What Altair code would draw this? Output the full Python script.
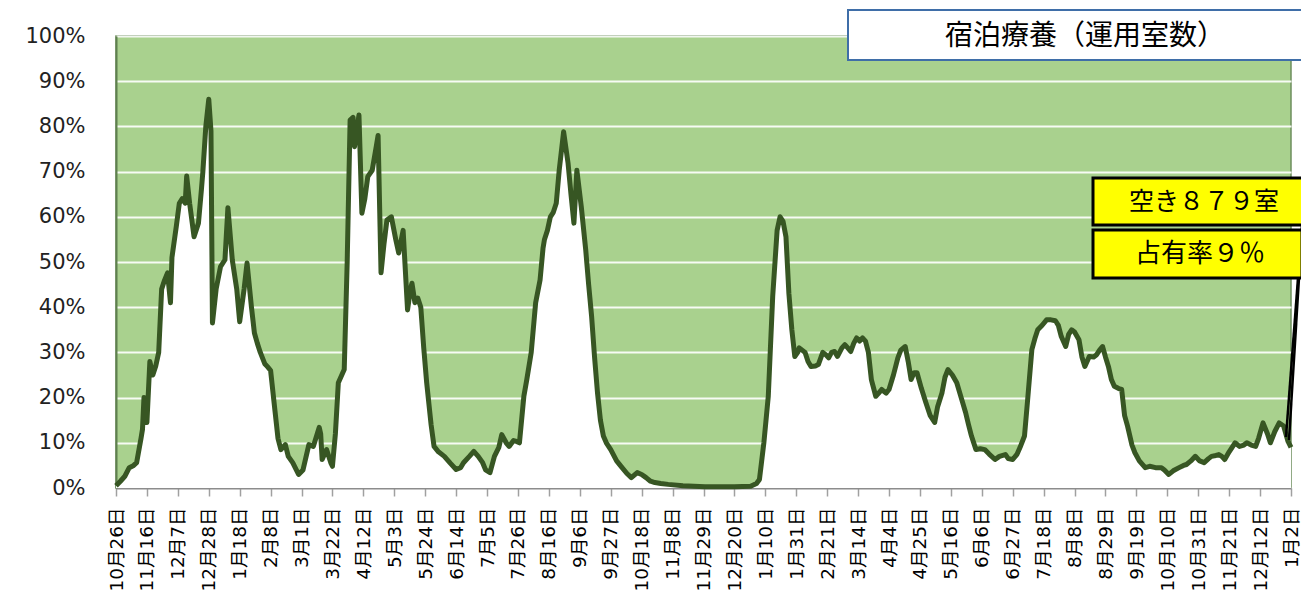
import json
import altair as alt
import pandas as pd

# ---- data (day offset from 10月26日, occupancy %) ----
days = [0, 3, 6, 9, 12, 14, 17, 18, 19, 21, 23, 25, 27, 29, 31, 33, 35, 37, 38, 41,
        43, 45, 47, 48, 50, 53, 56, 58, 59, 61, 63, 64.5, 65.5, 68, 71, 74, 76, 79, 82, 84,
        87, 89, 92, 94, 96, 98, 101, 103, 105, 108, 110, 112, 115, 117, 120, 124, 127, 131, 134, 138,
        139, 140, 143, 146, 147, 149, 151, 155, 157, 159, 161, 162, 165, 167, 169, 171, 174, 177, 178, 180,
        182, 184, 187, 190, 192, 195, 198, 200, 201, 203, 205, 207, 209, 211, 214, 216, 219, 223, 227, 231,
        234, 236, 240, 243, 246, 249, 251, 254, 257, 260, 262, 265, 267, 270, 272, 274, 277, 279, 282, 285,
        288, 290, 291, 293, 295, 297, 299, 301, 304, 307, 309, 311, 313, 316, 319, 321, 323, 325, 327, 329,
        331, 333, 336, 340, 343, 347, 350, 354, 357, 360, 363, 366, 370, 375, 385, 400, 420, 431, 435, 437,
        440, 443, 446, 449, 451, 453, 455, 457, 459, 461, 463, 464, 466, 468, 470, 472, 475, 477, 480, 482,
        484, 486, 488, 490, 493, 495, 497, 499, 501, 503, 505, 507, 509, 511, 513, 516, 518, 520, 523, 525,
        528, 531, 533, 536, 538, 540, 542, 544, 547, 550, 553, 556, 558, 561, 563, 565, 568, 571, 574, 577,
        579, 581, 584, 587, 590, 593, 597, 600, 604, 606, 609, 612, 614, 617, 619, 622, 624, 626, 629, 632,
        635, 638, 640, 642, 645, 647, 649, 651, 654, 656, 658, 661, 664, 666, 668, 670, 672, 674, 676, 678,
        681, 683, 685, 687, 690, 692, 695, 699, 702, 706, 710, 712, 715, 718, 722, 725, 727, 730, 733, 736,
        739, 742, 744, 747, 749, 751, 753, 756, 760, 763, 766, 768, 771, 774, 776, 779, 782, 784, 787, 790,
        793, 796, 798]
occupancy = [0.5, 1.5, 2.6, 4.5, 5, 5.6, 11, 13, 20, 14.5, 28, 25, 27, 30, 44, 46, 47.6, 41, 51, 58,
             63, 64, 63, 69, 63, 55.6, 58.6, 66, 70, 80, 86, 79, 36.5, 44, 49, 50.5, 62, 50.4, 44, 36.8,
             44, 49.8, 40, 34.3, 32, 30, 27.5, 26.8, 26, 17, 11, 8.5, 9.6, 7, 5.6, 3, 4, 9.6, 9.2, 13.4,
             12, 6.3, 8.5, 5.5, 4.8, 12, 23.3, 26.2, 49.8, 81.4, 82, 75.5, 82.5, 60.8, 64, 68.9, 70.3, 76, 78, 47.6,
             54, 59.3, 60, 55, 52, 57, 39.4, 44, 45.3, 41, 42, 40, 31, 23.3, 14, 9.2, 8, 7, 5.5, 4.1,
             4.5, 5.6, 7, 8.1, 7, 5.6, 4, 3.4, 7, 9, 11.8, 10, 9.2, 10.5, 10.3, 10, 20.3, 24, 30, 41,
             46, 53, 55, 57, 60, 61, 63, 70.3, 78.8, 71.9, 65, 58.6, 70.3, 62.2, 52.7, 45, 38, 29, 21.1, 15,
             11.5, 10, 8.5, 6, 4.8, 3.2, 2.3, 3.4, 3, 2.3, 1.5, 1.2, 1, 0.8, 0.5, 0.3, 0.3, 0.4, 1, 1.9,
             10, 20.3, 42.4, 57, 60, 59, 55.6, 43, 35, 29.1, 30, 31, 30.5, 30, 28, 26.9, 27, 27.3, 30, 29.5,
             28.8, 30, 30.2, 29.1, 31, 31.7, 31, 30.2, 32, 33.2, 32.5, 33.2, 32.5, 30, 24, 20.3, 21, 21.8, 21, 21.8,
             25, 28.8, 30.5, 31.3, 28, 24, 25.5, 25.5, 22, 18.9, 16, 14.5, 18, 21.1, 24.5, 26.2, 25, 23.3, 20, 16.7,
             14, 11.5, 8.5, 8.7, 8.5, 7.5, 6.3, 7, 7.4, 6.5, 6.3, 7.5, 9, 11.5, 19, 30.6, 33, 35, 36, 37.2,
             37.2, 37, 36, 33.5, 31.3, 34, 35, 34.5, 32.8, 29, 26.9, 29.1, 29, 29.5, 30.5, 31.3, 29, 26.9, 24, 22.5,
             22, 21.8, 16, 13.7, 9.5, 7.8, 6, 4.5, 4.8, 4.5, 4.5, 4, 3, 3.8, 4.5, 5, 5.2, 6, 7, 6,
             5.6, 6.5, 7, 7.2, 7.4, 7, 6.3, 8, 10, 9.2, 9.5, 10, 9.5, 9.2, 11, 14.4, 12, 10, 12.5, 14.4,
             13.7, 10.3, 9]

tick_labels = ["10月26日", "11月16日", "12月7日", "12月28日", "1月18日", "2月8日", "3月1日",
               "3月22日", "4月12日", "5月3日", "5月24日", "6月14日", "7月5日", "7月26日",
               "8月16日", "9月6日", "9月27日", "10月18日", "11月8日", "11月29日", "12月20日",
               "1月10日", "1月31日", "2月21日", "3月14日", "4月4日", "4月25日", "5月16日",
               "6月6日", "6月27日", "7月18日", "8月8日", "8月29日", "9月19日", "10月10日",
               "10月31日", "11月21日", "12月12日", "1月2日"]
tick_days = [i * 21 for i in range(len(tick_labels))]
y_ticks = [0, 10, 20, 30, 40, 50, 60, 70, 80, 90, 100]

title_text = "宿泊療養（運用室数）"
note_vacant = "空き８７９室"
note_rate = "占有率９％"

df = pd.DataFrame({"day": days, "rate": occupancy})

JP = "Noto Sans CJK JP"
label_expr = json.dumps(tick_labels, ensure_ascii=False) + "[round(datum.value / 21)]"

x_enc = alt.X(
    "day:Q",
    scale=alt.Scale(domain=[0, 798], nice=False, zero=False),
    axis=alt.Axis(
        values=tick_days, labelExpr=label_expr, labelAngle=-90,
        labelFont="DejaVu Sans, Noto Sans CJK JP",
        labelFontSize=18.5, labelColor="#000000", labelOverlap=False, labelFlush=False,
        labelPadding=11, tickColor="#a0a0a0", tickSize=8, tickWidth=1.5,
        domainColor="#8c8c8c", domainWidth=2, grid=False, title=None,
    ),
)
y_enc = alt.Y(
    "rate:Q",
    scale=alt.Scale(domain=[0, 100], nice=False),
    axis=alt.Axis(
        values=y_ticks, labelExpr="datum.value + '%'", labelFont="DejaVu Sans",
        labelFontSize=21, labelColor="#222222", labelPadding=31, ticks=False,
        grid=True, gridColor="#ffffff", gridWidth=2.2, gridOpacity=0.9,
        domainColor="#5f7f4f", domainWidth=2, title=None,
    ),
)

area = alt.Chart(df).mark_area(color="#ffffff", opacity=1).encode(x=x_enc, y=y_enc)
line = alt.Chart(df).mark_line(color="#375623", strokeWidth=5, strokeJoin="round").encode(
    x=x_enc, y=y_enc
)

one = alt.Data(values=[{"k": 1}])

title_box = alt.Chart(one).mark_rect(fill="#ffffff", stroke="#3f6ea8", strokeWidth=2).encode(
    x=alt.value(732), x2=alt.value(1230), y=alt.value(-26), y2=alt.value(24)
)
title_lbl = alt.Chart(one).mark_text(
    text=title_text, font=JP, fontSize=28, color="#000000", align="center", baseline="middle"
).encode(x=alt.value(969), y=alt.value(1))

leader_a = alt.Chart(one).mark_rule(color="#000000", strokeWidth=2.5).encode(
    x=alt.value(1186), y=alt.value(189), x2=alt.value(1170), y2=alt.value(401)
)
leader_b = alt.Chart(one).mark_rule(color="#000000", strokeWidth=2.5).encode(
    x=alt.value(1183), y=alt.value(242), x2=alt.value(1173), y2=alt.value(404)
)

box1 = alt.Chart(one).mark_rect(fill="#ffff00", stroke="#000000", strokeWidth=3).encode(
    x=alt.value(977), x2=alt.value(1215), y=alt.value(142), y2=alt.value(189)
)
txt1 = alt.Chart(one).mark_text(
    text=note_vacant, font=JP, fontSize=25, color="#000000", align="center", baseline="middle"
).encode(x=alt.value(1088), y=alt.value(166))
box2 = alt.Chart(one).mark_rect(fill="#ffff00", stroke="#000000", strokeWidth=3).encode(
    x=alt.value(977), x2=alt.value(1186), y=alt.value(194), y2=alt.value(242)
)
txt2 = alt.Chart(one).mark_text(
    text=note_rate, font=JP, fontSize=26, color="#000000", align="center", baseline="middle"
).encode(x=alt.value(1084), y=alt.value(218))

chart = (
    alt.layer(area, line, title_box, title_lbl, leader_a, leader_b, box1, txt1, box2, txt2)
    .properties(
        width=1175, height=452,
        autosize=alt.AutoSizeParams(type="none"),
        padding={"left": 108, "top": 28, "right": 10, "bottom": 116},
        background="#ffffff",
    )
    .configure_view(fill="#a9d18e", stroke="#6e8f5e", strokeWidth=1.5)
)

chart.save("out.html", embed_options={"renderer": "svg", "actions": False})
